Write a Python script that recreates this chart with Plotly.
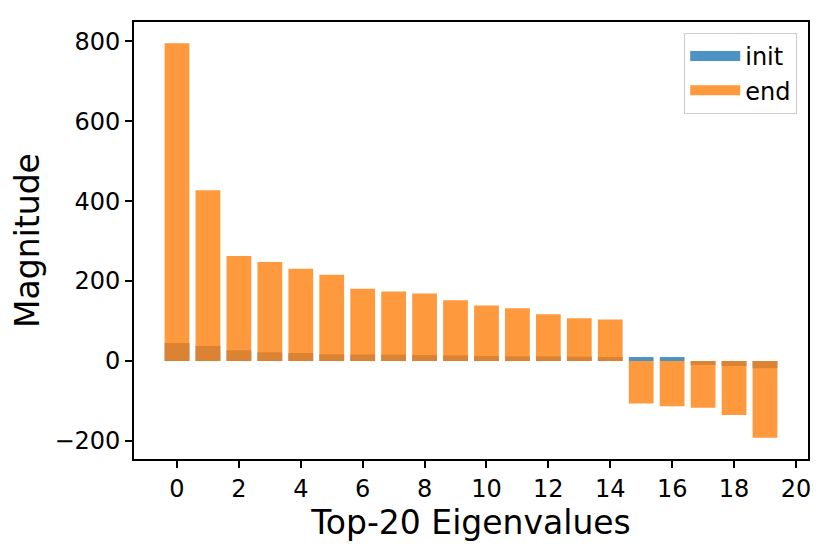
import plotly.graph_objects as go

# Top-20 eigenvalues, before and after training
idx = list(range(20))
init_vals = [45, 38, 27, 22, 20, 17, 16.5, 16, 15, 14,
             12.5, 12, 11.5, 11, 10, 10, 10, -10, -12.5, -18]
end_vals = [795, 427, 263, 248, 231, 216, 181, 174, 169, 152,
            139, 132, 117, 107, 104, -106, -113, -117, -135, -192]

x_ticks = list(range(0, 21, 2))
y_ticks = [-200, 0, 200, 400, 600, 800]

series = [("init", init_vals, "rgba(31,119,180,0.8)"),
          ("end", end_vals, "rgba(255,127,14,0.8)")]

fig = go.Figure()
for name, vals, color in series:
    fig.add_trace(go.Bar(x=idx, y=vals, name=name, width=0.8, showlegend=False,
                         marker=dict(color=color, line=dict(width=0))))
# legend entries drawn as wide patches, like matplotlib's
for name, vals, color in series:
    fig.add_trace(go.Scatter(x=[None], y=[None], name=name, mode="lines",
                             line=dict(color=color, width=16)))

axis_common = dict(
    showline=True, linecolor="black", linewidth=1.6, mirror=True,
    ticks="outside", ticklen=7, tickwidth=1.6, tickcolor="black",
    showgrid=False, zeroline=False,
    tickfont=dict(size=24, color="black"),
)

fig.update_xaxes(range=[-1.39, 20.39], tickvals=x_ticks,
                 title=dict(text="Top-20 Eigenvalues", font=dict(size=33, color="black"), standoff=6),
                 **axis_common)
fig.update_yaxes(range=[-245, 848], tickvals=y_ticks,
                 title=dict(text="Magnitude", font=dict(size=33, color="black"), standoff=12),
                 **axis_common)

fig.update_layout(
    width=831, height=551,
    barmode="overlay",
    plot_bgcolor="white", paper_bgcolor="white",
    font=dict(family="DejaVu Sans", color="black"),
    margin=dict(l=126, r=31, t=14, b=100),
    legend=dict(x=0.984, y=0.975, xanchor="right", yanchor="top",
                bordercolor="#cccccc", borderwidth=1, bgcolor="rgba(255,255,255,0.8)",
                font=dict(size=24), itemwidth=50),
)

fig.write_html("out.html")
